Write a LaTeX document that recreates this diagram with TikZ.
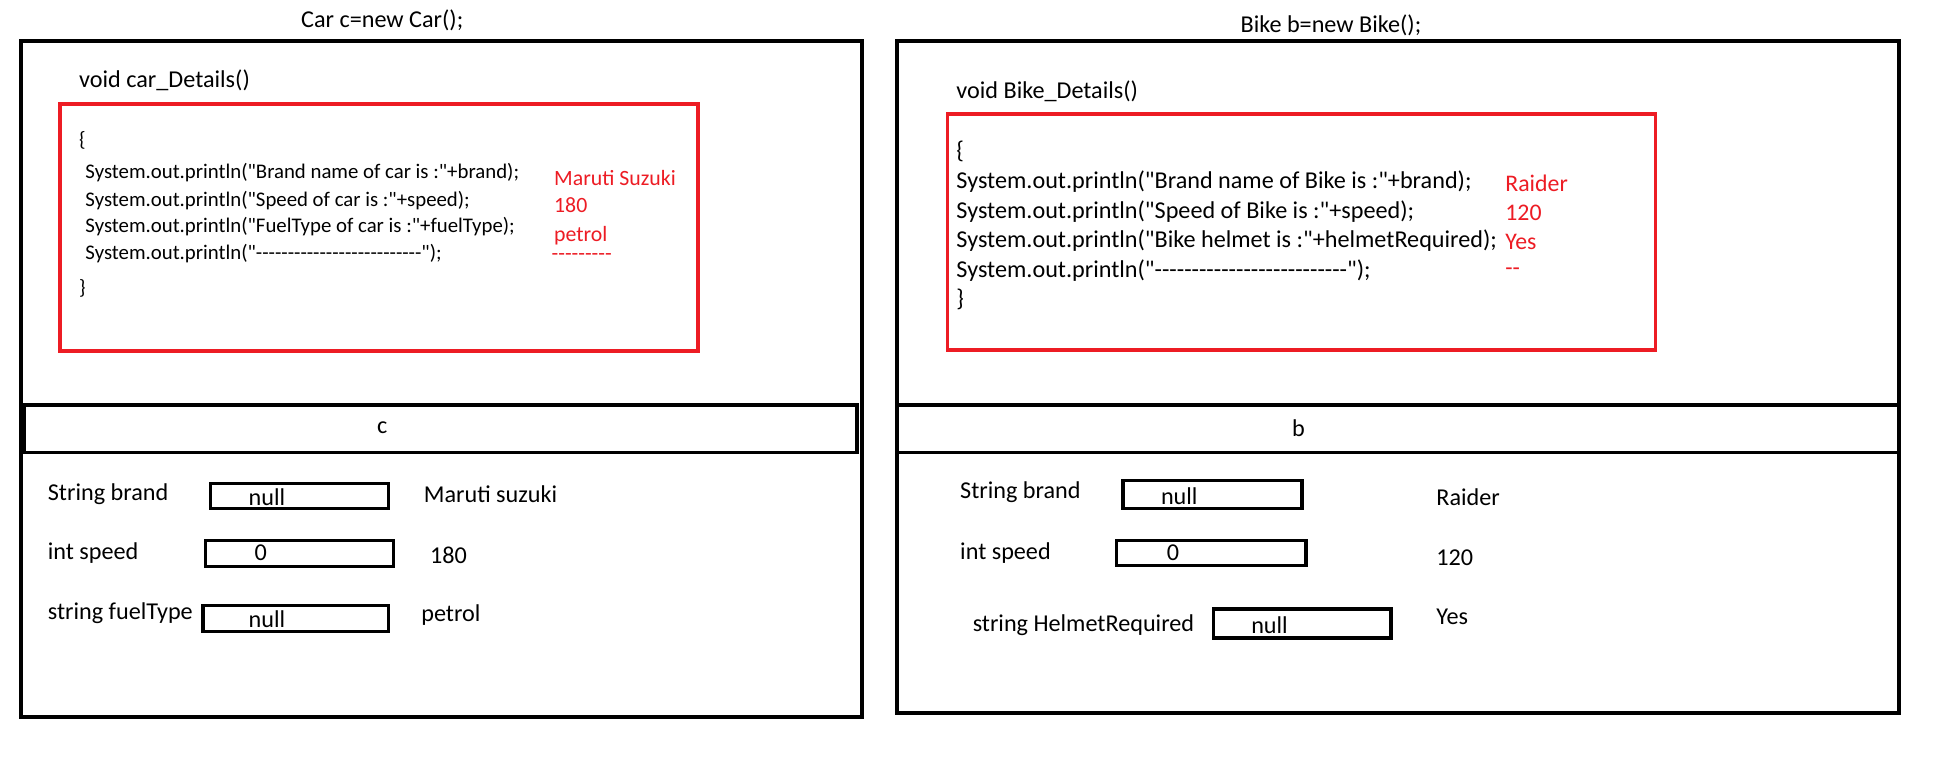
\documentclass[tikz,border=0pt]{standalone}
\usepackage{fontspec}
\setmainfont{Carlito}[Ligatures=TeXOff]
\definecolor{msred}{RGB}{237,28,36}
\newcommand\dq{\char34\relax}
\begin{document}
\begin{tikzpicture}[x=1pt,y=-1pt,
  frame/.style={draw=black,line width=3pt},
  redframe/.style={draw=msred,line width=3pt},
  vbox/.style={draw=black,line width=2.6pt},
  lbl/.style={anchor=west,inner sep=0pt,font=\fontsize{19.3}{19.3}\selectfont},
  ctr/.style={inner sep=0pt,font=\fontsize{19.3}{19.3}\selectfont},
  codeL/.style={anchor=west,inner sep=0pt,font=\fontsize{16.6}{16.6}\selectfont},
  codeR/.style={anchor=west,inner sep=0pt,font=\fontsize{19.3}{19.3}\selectfont},
  valL/.style={anchor=west,inner sep=0pt,text=msred,font=\fontsize{17.4}{17.4}\selectfont},
  valR/.style={anchor=west,inner sep=0pt,text=msred,font=\fontsize{19}{19}\selectfont}
]
\useasboundingbox (0,0) rectangle (1552,611);
\fill[white] (0,0) rectangle (1552,611);

% ---------- left object ----------
\node[ctr] (tC) at (305,16) {Car c=new Car();};
\draw[frame] (17,33) rectangle (688,572);
\draw[frame] (19,323) rectangle (684,361);
\node[ctr] (cname) at (305,341) {c};
\node[lbl] (mC) at (63,64) {void car\_Details()};
\draw[redframe] (48,83) rectangle (557,280);
\node[codeL] (lb1) at (63,112) {\{};
\node[codeL] (c1) at (68,138) {System.out.println(\dq Brand name of car is :\dq+brand);};
\node[codeL] (c2) at (68,160) {System.out.println(\dq Speed of car is :\dq+speed);};
\node[codeL] (c3) at (68,181) {System.out.println(\dq FuelType of car is :\dq+fuelType);};
\node[codeL] (c4) at (68,202) {System.out.println(\dq-{}-{}-{}-{}-{}-{}-{}-{}-{}-{}-{}-{}-{}-{}-{}-{}-{}-{}-{}-{}-{}-{}-{}-{}-{}-\dq);};
\node[codeL] (rb1) at (63,230) {\}};
\node[valL] (v1) at (442,142) {Maruti Suzuki};
\node[valL] (v2) at (442,164) {180};
\node[valL] (v3) at (442,188) {petrol};
\node[valL] (v4) at (440,205) {-{}-{}-{}-{}-{}-{}-{}-{}-};

\node[lbl] (l1) at (38,394) {String brand};
\node[vbox,minimum width=142pt,minimum height=20pt,inner sep=0pt] (b1) at (239,396) {};
\node[ctr] (n1) at (213,397) {null};
\node[lbl] (a1) at (338,394) {Maruti suzuki};

\node[lbl] (l2) at (38,441) {int speed};
\node[vbox,minimum width=150pt,minimum height=21pt,inner sep=0pt] (b2) at (239,441.5) {};
\node[ctr] (n2) at (208,441) {0};
\node[lbl] (a2) at (343,443) {180};

\node[lbl] (l3) at (38,489) {string fuelType};
\node[vbox,minimum width=148pt,minimum height=21pt,inner sep=0pt] (b3) at (236,493.5) {};
\node[ctr] (n3) at (213,494) {null};
\node[lbl] (a3) at (336,491) {petrol};

% ---------- right object ----------
\node[ctr] (tB) at (1062,20) {Bike b=new Bike();};
\draw[frame] (716,33) rectangle (1515,569);
\draw[frame] (716,323) -- (1515,323);
\draw[frame] (716,361) -- (1515,361);
\node[ctr] (bname) at (1036,342) {b};
\node[lbl] (mB) at (763,73) {void Bike\_Details()};
\draw[redframe] (756,91) rectangle (1321,279);
\node[codeR] (lb2) at (763,121) {\{};
\node[codeR] (d1) at (763,145) {System.out.println(\dq Brand name of Bike is :\dq+brand);};
\node[codeR] (d2) at (763,169) {System.out.println(\dq Speed of Bike is :\dq+speed);};
\node[codeR] (d3) at (763,192) {System.out.println(\dq Bike helmet is :\dq+helmetRequired);};
\node[codeR] (d4) at (763,216) {System.out.println(\dq-{}-{}-{}-{}-{}-{}-{}-{}-{}-{}-{}-{}-{}-{}-{}-{}-{}-{}-{}-{}-{}-{}-{}-{}-{}-\dq);};
\node[codeR] (rb2) at (763,239) {\}};
\node[valR] (w1) at (1201,146) {Raider};
\node[valR] (w2) at (1201,170) {120};
\node[valR] (w3) at (1201,193) {Yes};
\node[valR] (w4) at (1201,217) {-{}-};

\node[lbl] (k1) at (766,393) {String brand};
\node[vbox,minimum width=143pt,minimum height=22pt,inner sep=0pt] (e1) at (967.5,394.5) {};
\node[ctr] (m1) at (941,396) {null};
\node[lbl] (r1) at (1146,397) {Raider};

\node[lbl] (k2) at (766,441) {int speed};
\node[vbox,minimum width=151pt,minimum height=20pt,inner sep=0pt] (e2) at (966.5,441) {};
\node[ctr] (m2) at (936,441) {0};
\node[lbl] (r2) at (1146,445) {120};

\node[lbl] (k3) at (776,499) {string HelmetRequired};
\node[vbox,minimum width=142pt,minimum height=23pt,inner sep=0pt] (e3) at (1039,497.5) {};
\node[ctr] (m3) at (1013,499) {null};
\node[lbl] (r3) at (1146,492) {Yes};
\end{tikzpicture}
\end{document}
